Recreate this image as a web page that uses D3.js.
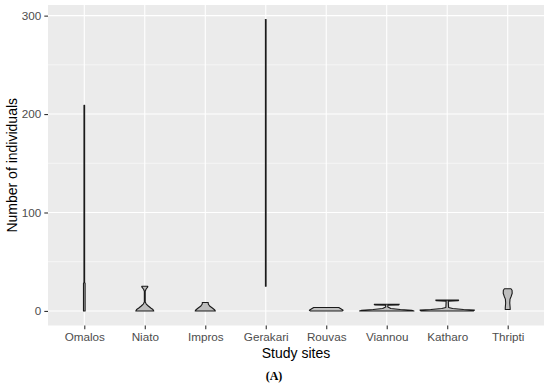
<!DOCTYPE html>
<meta charset="utf-8">
<head>
<title>Number of individuals by study site</title>
<style>
  body { margin: 0; background: #fff; }
  .tick text { font-family: "Liberation Sans", Arial, sans-serif; }
</style>
</head>
<body>
<script src="https://cdn.jsdelivr.net/npm/d3@7"></script>
<script>

// study sites (x categories)
var sites = ["Omalos", "Niato", "Impros", "Gerakari", "Rouvas", "Viannou", "Katharo", "Thripti"];

// y ticks
var yMajor = [0, 100, 200, 300];
var yMinor = [50, 150, 250];

// violin outlines: [number of individuals, relative density width]
var omalos   = [[0, 0.03], [28, 0.03], [29, 0.012], [209, 0.012]];
var niato    = [[0, 0.33], [1.5, 0.3], [3, 0.22], [5, 0.13], [7, 0.055], [9, 0.016], [20, 0.016], [22, 0.045], [24.5, 0.11], [25, 0.11]];
var impros   = [[0, 0.37], [1, 0.35], [3, 0.26], [5, 0.16], [7, 0.11], [8.5, 0.11]];
var gerakari = [[25, 0.012], [296, 0.012]];
var rouvas   = [[0, 0.58], [0.7, 0.62], [2, 0.55], [3.5, 0.46]];
var viannou  = [[0, 1.0], [0.7, 0.92], [1.5, 0.5], [2.5, 0.15], [4, 0.04], [5.8, 0.04], [6.1, 0.44], [6.8, 0.46]];
var katharo  = [[0, 0.96], [0.8, 1.0], [1.5, 0.6], [2.5, 0.2], [3.5, 0.05], [10, 0.04], [10.3, 0.4], [11, 0.42]];
var thripti  = [[1.5, 0.09], [3, 0.09], [8, 0.075], [12, 0.085], [15, 0.13], [18, 0.165], [21, 0.16], [22.5, 0.12]];

var violins = [omalos, niato, impros, gerakari, rouvas, viannou, katharo, thripti];

var margin = {top: 5, right: 6, bottom: 59.5, left: 48},
    width = 550 - margin.left - margin.right,
    height = 385 - margin.top - margin.bottom;

var svg = d3.select("body").append("svg")
    .attr("width", 550)
    .attr("height", 385)
  .append("g")
    .attr("transform", "translate(" + margin.left + "," + margin.top + ")");

var x = d3.scalePoint()
    .domain(sites)
    .range([0, width])
    .padding(0.6);

var y = d3.scaleLinear()
    .domain([-14.8, 310.8])
    .range([height, 0]);

// panel
svg.append("rect")
    .attr("width", width)
    .attr("height", height)
    .style("fill", "#ebebeb");

svg.selectAll("line.minor")
    .data(yMinor)
  .enter().append("line")
    .attr("x1", 0).attr("x2", width)
    .attr("y1", function(d) { return y(d); })
    .attr("y2", function(d) { return y(d); })
    .style("stroke", "#fff")
    .style("stroke-width", 0.55);

svg.selectAll("line.major")
    .data(yMajor)
  .enter().append("line")
    .attr("x1", 0).attr("x2", width)
    .attr("y1", function(d) { return y(d); })
    .attr("y2", function(d) { return y(d); })
    .style("stroke", "#fff")
    .style("stroke-width", 1.1);

svg.selectAll("line.vgrid")
    .data(sites)
  .enter().append("line")
    .attr("x1", function(d) { return x(d); })
    .attr("x2", function(d) { return x(d); })
    .attr("y1", 0).attr("y2", height)
    .style("stroke", "#fff")
    .style("stroke-width", 1.1);

// violins
var halfMax = 0.45 * x.step();

svg.selectAll("path.violin")
    .data(violins)
  .enter().append("path")
    .attr("d", function(d, i) {
      var cx = x(sites[i]);
      var right = d.map(function(p) { return [cx + p[1] * halfMax, y(p[0])]; });
      var left = d.slice().reverse().map(function(p) { return [cx - p[1] * halfMax, y(p[0])]; });
      return d3.line()(right.concat(left)) + "Z";
    })
    .style("fill", "#bebebe")
    .style("stroke", "#1a1a1a")
    .style("stroke-width", 1.1)
    .style("stroke-linejoin", "round");

// axes
var xAxis = svg.append("g")
    .attr("transform", "translate(0," + height + ")")
    .call(d3.axisBottom(x).tickSize(3.7).tickPadding(3));

var yAxis = svg.append("g")
    .call(d3.axisLeft(y).tickValues(yMajor).tickSize(3.7).tickPadding(3));

[xAxis, yAxis].forEach(function(g) {
  g.select(".domain").remove();
  g.selectAll(".tick line").style("stroke", "#333").style("stroke-width", 1.1);
  g.selectAll(".tick text").style("fill", "#4d4d4d").style("font-size", "11.7px");
});

svg.append("text")
    .attr("x", width / 2)
    .attr("y", height + 32)
    .attr("text-anchor", "middle")
    .style("font-family", "Liberation Sans, Arial, sans-serif")
    .style("font-size", "14px")
    .text("Study sites");

svg.append("text")
    .attr("transform", "rotate(-90)")
    .attr("x", -height / 2)
    .attr("y", -31)
    .attr("text-anchor", "middle")
    .style("font-family", "Liberation Sans, Arial, sans-serif")
    .style("font-size", "14px")
    .text("Number of individuals");

svg.append("text")
    .attr("x", width / 2 - 22)
    .attr("y", height + 54)
    .attr("text-anchor", "middle")
    .style("font-family", "Liberation Serif, Times New Roman, serif")
    .style("font-weight", "bold")
    .style("font-size", "12px")
    .text("(A)");

</script>
</body>
